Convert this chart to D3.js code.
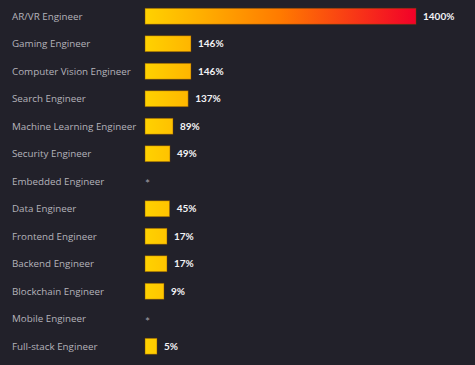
<!DOCTYPE html>
<html>
<head>
<meta charset="utf-8">
<script src="https://cdn.jsdelivr.net/npm/d3@7"></script>
<style>
  html, body { margin: 0; padding: 0; background: #22212a; }
  svg { display: block; }
</style>
</head>
<body>
<script>
// job titles and growth, top to bottom
var roles = ["AR/VR Engineer", "Gaming Engineer", "Computer Vision Engineer", "Search Engineer",
  "Machine Learning Engineer", "Security Engineer", "Embedded Engineer", "Data Engineer",
  "Frontend Engineer", "Backend Engineer", "Blockchain Engineer", "Mobile Engineer", "Full-stack Engineer"];
var growth = [1400, 146, 146, 137, 89, 49, null, 45, 17, 17, 9, null, 5];
var growthLabels = ["1400%", "146%", "146%", "137%", "89%", "49%", "*", "45%", "17%", "17%", "9%", "*", "5%"];

var width = 475, height = 365;

var svg = d3.select("body").append("svg")
    .attr("width", width)
    .attr("height", height);

var rows = roles.map(function(r, i){
  return {role: r, value: growth[i], label: growthLabels[i]};
});

var y = d3.scaleBand()
    .domain(roles)
    .range([2.5, 360])
    .paddingInner(0.42)
    .paddingOuter(0.21);

// the chart isn't drawn to a linear scale, so break the axis into pieces
var x = d3.scaleLinear()
    .domain([0, 5, 9, 17, 49, 89, 146, 1400])
    .range([145, 157, 164, 167, 170, 173, 191, 416]);

var defs = svg.append("defs");
var grad = defs.append("linearGradient")
    .attr("id", "heat")
    .attr("gradientUnits", "userSpaceOnUse")
    .attr("x1", 145).attr("x2", 416)
    .attr("y1", 0).attr("y2", 0);
grad.append("stop").attr("offset", "0%").attr("stop-color", "#ffd200");
grad.append("stop").attr("offset", "20%").attr("stop-color", "#ffb000");
grad.append("stop").attr("offset", "50%").attr("stop-color", "#ff7a00");
grad.append("stop").attr("offset", "100%").attr("stop-color", "#f20029");

var row = svg.selectAll("g.row")
    .data(rows)
    .enter()
    .append("g")
    .attr("class", "row")
    .attr("transform", function(d){ return "translate(0," + y(d.role) + ")"; });

row.append("text")
    .attr("x", 12)
    .attr("y", y.bandwidth()/2)
    .attr("dy", "0.35em")
    .attr("fill", "#b4b3ba")
    .style("font-family", "'Open Sans', sans-serif")
    .style("font-size", "9.8px")
    .text(function(d){ return d.role; });

row.filter(function(d){ return d.value != null; })
  .append("rect")
    .attr("x", x(0))
    .attr("y", 0)
    .attr("width", function(d){ return x(d.value) - x(0); })
    .attr("height", y.bandwidth())
    .attr("fill", "url(#heat)")
    .attr("stroke", "rgba(120,70,0,0.55)")
    .attr("stroke-width", 0.8);

row.append("text")
    .attr("x", function(d){ return d.value == null ? 145 : x(d.value) + 7; })
    .attr("y", function(d){ return d.value == null ? y.bandwidth()/2 + 3 : y.bandwidth()/2; })
    .attr("dy", "0.35em")
    .attr("fill", function(d){ return d.value == null ? "#a09fa6" : "#f2f2f4"; })
    .style("font-family", "Lato, 'Noto Sans', sans-serif")
    .style("font-weight", function(d){ return d.value == null ? "normal" : "bold"; })
    .style("font-size", function(d){ return d.value == null ? "12px" : "10px"; })
    .text(function(d){ return d.label; });
</script>
</body>
</html>
